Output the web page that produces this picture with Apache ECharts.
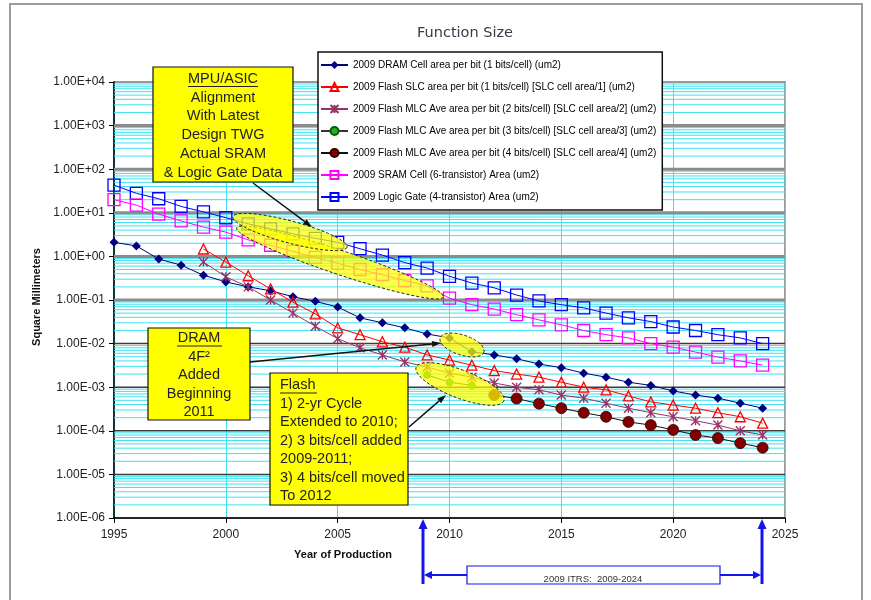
<!DOCTYPE html>
<html><head><meta charset="utf-8">
<script src="https://cdn.jsdelivr.net/npm/echarts@6/dist/echarts.min.js"></script>
<style>html,body{margin:0;padding:0;background:#fff}#c{width:871px;height:600px}</style>
</head><body><div id="c"></div>
<script>
// ---------------- data ----------------
const years = [1995,1996,1997,1998,1999,2000,2001,2002,2003,2004,2005,2006,2007,2008,2009,2010,2011,2012,2013,2014,2015,2016,2017,2018,2019,2020,2021,2022,2023,2024];
const seriesNames = [
  '2009 DRAM Cell area per bit (1 bits/cell) (um2)',
  '2009 Flash SLC area per bit (1 bits/cell) [SLC cell area/1] (um2)',
  '2009 Flash MLC Ave area per bit (2 bits/cell) [SLC cell area/2] (um2)',
  '2009 Flash MLC Ave area per bit (3 bits/cell) [SLC cell area/3] (um2)',
  '2009 Flash MLC Ave area per bit (4 bits/cell) [SLC cell area/4] (um2)',
  '2009 SRAM Cell (6-transistor) Area (um2)',
  '2009 Logic Gate (4-transistor) Area (um2)'
];
const dram = [2.1,1.74,0.87,0.63,0.37,0.26,0.20,0.163,0.119,0.093,0.069,0.039,0.030,0.023,0.0166,0.0135,0.0065,0.0055,0.0045,0.0034,0.0028,0.0021,0.0017,0.0013,0.0011,0.00082,0.00066,0.00056,0.00043,0.00033];
const flashSLC = [null,null,null,null,1.48,0.74,0.36,0.18,0.089,0.048,0.023,0.016,0.011,0.0083,0.0055,0.0042,0.0032,0.0024,0.0020,0.0017,0.0013,0.0010,0.00087,0.00063,0.00046,0.00039,0.00033,0.00026,0.00021,0.00015];
const flashMLC2 = [null,null,null,null,0.74,0.34,0.20,0.10,0.050,0.025,0.013,0.008,0.0055,0.0038,0.0029,0.0021,0.0017,0.00125,0.0010,0.00087,0.00066,0.00056,0.00043,0.00033,0.00026,0.00021,0.00017,0.000135,0.00010,0.00008];
const flashMLC3 = [null,null,null,null,null,null,null,null,null,null,null,null,null,null,0.0019,0.0013,0.0011,null,null,null,null,null,null,null,null,null,null,null,null,null];
const flashMLC4 = [null,null,null,null,null,null,null,null,null,null,null,null,null,null,null,null,null,0.00066,0.00055,0.00042,0.00033,0.00026,0.00021,0.00016,0.000135,0.000105,0.00008,0.000068,0.000052,0.000041];
const sram = [20,15,9.3,6.5,4.7,3.6,2.4,1.8,1.3,0.95,0.70,0.50,0.38,0.28,0.21,0.11,0.078,0.062,0.046,0.035,0.027,0.020,0.016,0.0135,0.010,0.0083,0.0064,0.0049,0.0040,0.0032];
const logicGate = [43,28,21,14,10.5,7.7,5.6,4.3,3.3,2.6,2.1,1.5,1.07,0.72,0.54,0.35,0.245,0.19,0.13,0.095,0.078,0.066,0.050,0.039,0.032,0.024,0.020,0.016,0.0135,0.010];
const xTicks = [1995,2000,2005,2010,2015,2020,2025];
const yExpMin = -6, yExpMax = 4;

// ---------------- helpers ----------------
function pairs(arr){ return years.map((y,i)=>[y,arr[i]]).filter(d=>d[1]!=null); }
function sciLabel(v){
  const e = Math.round(Math.log10(v));
  return '1.00E' + (e<0?'-':'+') + String(Math.abs(e)).padStart(2,'0');
}
const xMin = xTicks[0], xMax = xTicks[xTicks.length-1];
const minorVals=[], majorUpper=[], majorLower=[];
for(let e=yExpMin;e<yExpMax;e++){
  for(let k=2;k<=9;k++) minorVals.push(k*Math.pow(10,e));
  if(e>yExpMin){ (e>=-1?majorUpper:majorLower).push(Math.pow(10,e)); }
}
function gridSeries(vals,color,width){
  return {type:'custom',z:1,silent:true,animation:false,clip:false,
    data:vals.map(v=>[xMin,v]),encode:{x:0,y:1},
    renderItem:function(params,api){
      const v=api.value(1);
      const p1=api.coord([xMin,v]), p2=api.coord([xMax,v]);
      return {type:'line',shape:{x1:p1[0],y1:p1[1],x2:p2[0],y2:p2[1]},style:{stroke:color,lineWidth:width}};
    }};
}
function ellipsePts(cx,cy,a,b,deg){
  const t=deg*Math.PI/180, pts=[];
  for(let i=0;i<90;i++){const p=i/90*2*Math.PI;const x=a*Math.cos(p),y=b*Math.sin(p);
    pts.push([cx+x*Math.cos(t)-y*Math.sin(t), cy+x*Math.sin(t)+y*Math.cos(t)]);}
  return pts;
}
function ellipse(cx,cy,a,b,deg){
  return {type:'polygon',z:50,silent:true,shape:{points:ellipsePts(cx,cy,a,b,deg)},
    style:{fill:'rgba(255,255,0,0.72)',stroke:'#222',lineWidth:1,lineDash:[3,2]}};
}
function arrow(x1,y1,x2,y2,color,w,hl,hw){
  const ang=Math.atan2(y2-y1,x2-x1);
  const bx=x2-hl*Math.cos(ang), by=y2-hl*Math.sin(ang);
  const px=-Math.sin(ang)*hw/2, py=Math.cos(ang)*hw/2;
  return [
    {type:'line',z:60,silent:true,shape:{x1:x1,y1:y1,x2:bx,y2:by},style:{stroke:color,lineWidth:w}},
    {type:'polygon',z:60,silent:true,shape:{points:[[x2,y2],[bx+px,by+py],[bx-px,by-py]]},style:{fill:color}}
  ];
}
const FF='"Liberation Sans", Arial, sans-serif';
function txt(t,x,y,opt){
  opt=opt||{};
  return {type:'text',z:opt.z||72,silent:true,x:x,y:y,rotation:opt.rot||0,
    style:{text:t,x:0,y:0,fill:opt.color||'#222',fontSize:opt.size||14.5,fontFamily:opt.family||FF,
      fontWeight:opt.weight||'normal',align:opt.align||'center',verticalAlign:'middle'}};
}
function box(x,y,w,h){
  return {type:'rect',z:70,silent:true,shape:{x:x,y:y,width:w,height:h},style:{fill:'#FFFF00',stroke:'#111',lineWidth:1.2}};
}
function uline(x1,x2,y){
  return {type:'line',z:72,silent:true,shape:{x1:x1,y1:y,x2:x2,y2:y},style:{stroke:'#222',lineWidth:1}};
}

const graphics = [];
graphics.push({type:'rect',z:0,silent:true,shape:{x:10,y:4,width:852,height:600},style:{fill:'none',stroke:'#9a9a9a',lineWidth:2}});
graphics.push(txt('Function Size',465,33,{size:14.5,family:'"DejaVu Sans", sans-serif',color:'#3a3a48'}));
graphics.push(txt('Square Millimeters',37,297,{size:11,weight:'bold',rot:Math.PI/2,color:'#111'}));
graphics.push(txt('Year of Production',343,555,{size:11,weight:'bold',color:'#111'}));
graphics.push(ellipse(340,262.5,109,12,18.5));
graphics.push(ellipse(290,232,59,11,15));
graphics.push(ellipse(462,345,23,10,18));
graphics.push(ellipse(460,384,47,14,21));
graphics.push(...arrow(253,183,312,227,'#111',1.5,9,6));
graphics.push(...arrow(250,362,441,343,'#111',1.5,9,6));
graphics.push(...arrow(409,427,446,395,'#111',1.5,9,6));
graphics.push(box(153,67,140,115));
['MPU/ASIC','Alignment','With Latest','Design TWG','Actual SRAM','& Logic Gate Data'].forEach((t,i)=>graphics.push(txt(t,223,79+i*18.7)));
graphics.push(uline(188,258,86.5));
graphics.push(box(148,328,102,92));
['DRAM','4F\u00B2','Added','Beginning','2011'].forEach((t,i)=>graphics.push(txt(t,199,338+i*18.5)));
graphics.push(uline(177,222,346));
graphics.push(box(270,373,138,132));
['Flash','1) 2-yr Cycle','Extended to 2010;','2) 3 bits/cell added','2009-2011;','3) 4 bits/cell moved','To 2012'].forEach((t,i)=>graphics.push(txt(t,280,385+i*18.5,{align:'left'})));
graphics.push(uline(280,317,393));
const blue='#1414f0';
graphics.push(...arrow(423,584,423,519,blue,3,10,9));
graphics.push(...arrow(762,584,762,519,blue,3,10,9));
graphics.push(...arrow(593,575,424,575,blue,2,8,8));
graphics.push(...arrow(593,575,761,575,blue,2,8,8));
graphics.push({type:'rect',z:70,silent:true,shape:{x:467,y:566,width:253,height:18},style:{fill:'#fff',stroke:blue,lineWidth:1.2}});
graphics.push(txt('2009 ITRS:  2009-2024',593,579,{size:9.5,color:'#333'}));

// ---------------- chart ----------------
const chart = echarts.init(document.getElementById('c'),null,{renderer:'canvas'});
const common = {type:'line',z:3,animation:false,showSymbol:true,connectNulls:false};
chart.setOption({
  backgroundColor:'#fff',
  animation:false,
  grid:{left:114,right:86,top:82,bottom:82,show:true,borderColor:'#999',borderWidth:2,backgroundColor:'#fff'},
  legend:{orient:'vertical',left:318,top:52,data:seriesNames,selectedMode:false,z:20,
    backgroundColor:'#fff',borderColor:'#111',borderWidth:1.5,padding:[8,6,8,2],
    itemWidth:27,itemHeight:10,itemGap:12,
    textStyle:{fontSize:10,color:'#000',fontFamily:FF}},
  xAxis:{type:'value',min:xMin,max:xMax,interval:5,
    axisLine:{lineStyle:{color:'#000',width:1.5}},
    axisTick:{show:true,length:5,lineStyle:{color:'#000'}},
    axisLabel:{margin:11,fontSize:12,color:'#222',fontFamily:FF,formatter:v=>String(v)},
    splitLine:{show:true,lineStyle:{color:'#3EE3F2',width:1}}},
  yAxis:{type:'log',logBase:10,min:Math.pow(10,yExpMin),max:Math.pow(10,yExpMax),interval:1,splitNumber:10,
    axisLine:{show:true,lineStyle:{color:'#000',width:1.5}},
    axisTick:{show:true,length:5,lineStyle:{color:'#000'}},
    axisLabel:{margin:9,fontSize:12,color:'#222',fontFamily:FF,formatter:sciLabel},
    splitLine:{show:false}},
  graphic:{elements:graphics},
  series:[
    gridSeries(minorVals,'#3EE3F2',1),
    gridSeries(majorLower,'#3c3c3c',1.5),
    gridSeries(majorUpper,'#8c8c8c',3),
    Object.assign({},common,{name:seriesNames[6],data:pairs(logicGate),symbol:'rect',symbolSize:12,
      lineStyle:{color:'#0000FF',width:1},itemStyle:{color:'rgba(255,255,255,0)',borderColor:'#0000FF',borderWidth:1.3}}),
    Object.assign({},common,{name:seriesNames[5],data:pairs(sram),symbol:'rect',symbolSize:12,
      lineStyle:{color:'#FF00FF',width:1},itemStyle:{color:'rgba(255,255,255,0)',borderColor:'#FF00FF',borderWidth:1.3}}),
    Object.assign({},common,{name:seriesNames[0],data:pairs(dram),symbol:'diamond',symbolSize:9,
      lineStyle:{color:'#000080',width:1},itemStyle:{color:'#000080'}}),
    Object.assign({},common,{name:seriesNames[1],data:pairs(flashSLC),symbol:'triangle',symbolSize:10,
      lineStyle:{color:'#FF0000',width:1},itemStyle:{color:'rgba(255,255,255,0)',borderColor:'#FF0000',borderWidth:1.3}}),
    Object.assign({},common,{name:seriesNames[2],data:pairs(flashMLC2),symbol:'path://M0,0L10,10M10,0L0,10M5,0L5,10',symbolSize:9,
      lineStyle:{color:'#993366',width:1},itemStyle:{color:'rgba(0,0,0,0)',borderColor:'#993366',borderWidth:1.4}}),
    Object.assign({},common,{name:seriesNames[3],data:pairs(flashMLC3),symbol:'circle',symbolSize:7,
      lineStyle:{color:'#333333',width:1},itemStyle:{color:'#22B022',borderColor:'#0a5a0a',borderWidth:0.5}}),
    Object.assign({},common,{name:seriesNames[4],data:pairs(flashMLC4),symbol:'circle',symbolSize:11,
      lineStyle:{color:'#111111',width:1},itemStyle:{color:'#800000',borderColor:'#300000',borderWidth:0.8}})
  ]
});
</script></body></html>
